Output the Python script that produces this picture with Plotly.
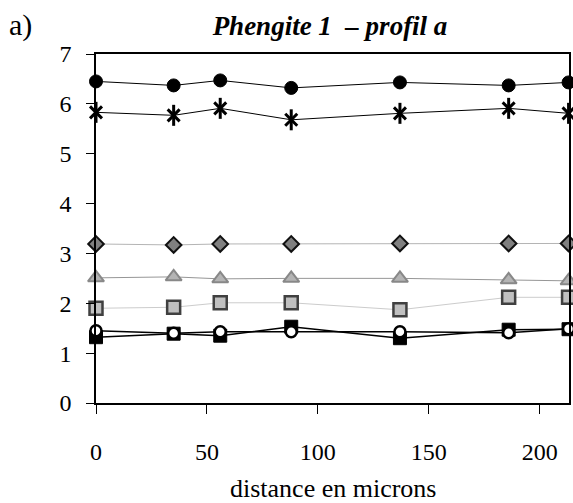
import plotly.graph_objects as go

# distances along the profile (microns)
distance = [0, 35, 56, 88, 137, 186, 213]

# series values
circle_black = [6.45, 6.37, 6.47, 6.32, 6.43, 6.37, 6.43]
asterisk = [5.83, 5.77, 5.91, 5.68, 5.81, 5.91, 5.81]
diamond = [3.19, 3.17, 3.19, 3.19, 3.20, 3.20, 3.20]
triangle = [2.51, 2.53, 2.49, 2.50, 2.50, 2.47, 2.45]
square_grey = [1.90, 1.92, 2.01, 2.01, 1.87, 2.12, 2.12]
square_black = [1.32, 1.39, 1.35, 1.53, 1.30, 1.47, 1.48]
circle_white = [1.45, 1.40, 1.43, 1.43, 1.43, 1.41, 1.49]

x_ticks = [0, 50, 100, 150, 200]
y_ticks = [0, 1, 2, 3, 4, 5, 6, 7]

serif = "Liberation Serif, serif"

fig = go.Figure()


def add_series(y, line_color, symbol, size, fill, outline, outline_w, line_w=1):
    fig.add_trace(go.Scatter(
        x=distance, y=y, mode="lines+markers", cliponaxis=False,
        line=dict(color=line_color, width=line_w),
        marker=dict(symbol=symbol, size=size, color=fill,
                    line=dict(color=outline, width=outline_w)),
        showlegend=False,
    ))


add_series(diamond, "#b4b4b4", "diamond", 12, "#808080", "#111111", 2)
add_series(triangle, "#969696", "triangle-up", 14, "#b4b4b4", "#888888", 2)
add_series(square_grey, "#cccccc", "square", 13, "#c0c0c0", "#404040", 2.5)
add_series(circle_black, "#000000", "circle", 13, "#000000", "#000000", 1)

# six-armed star: an x plus a vertical bar
add_series(asterisk, "#000000", "x-thin-open", 12, "#000000", "#000000", 3)
fig.add_trace(go.Scatter(
    x=distance, y=asterisk, mode="markers", cliponaxis=False,
    marker=dict(symbol="line-ns-open", size=15, color="#000000",
                line=dict(color="#000000", width=3)),
    showlegend=False,
))

add_series(square_black, "#000000", "square", 13, "#000000", "#000000", 1, 1.5)
add_series(circle_white, "#000000", "circle", 11, "#ffffff", "#000000", 2.5, 1.5)

plot_h = 349.5

fig.add_annotation(text="a)", xref="paper", yref="paper",
                   x=-89 / 473, y=1 + (54 - 25) / plot_h,
                   xanchor="left", yanchor="middle", showarrow=False,
                   font=dict(family=serif, size=30, color="#000000"))

fig.add_annotation(text="distance en microns", xref="paper", yref="paper",
                   x=(333 - 96) / 473, y=-(489 - 403.5) / plot_h,
                   xanchor="center", yanchor="middle", showarrow=False,
                   font=dict(family=serif, size=26, color="#000000"))

fig.update_layout(
    width=573, height=503,
    margin=dict(l=96, r=4, t=54, b=99.5),
    plot_bgcolor="white", paper_bgcolor="white",
    font=dict(family=serif, size=24, color="#000000"),
    title=dict(text="<b><i>Phengite 1  – profil a</i></b>",
               x=330 / 573, xanchor="center", y=1 - 26 / 503, yanchor="middle",
               font=dict(family=serif, size=27)),
    xaxis=dict(
        range=[0, 213.2], tickvals=x_ticks, showgrid=False, zeroline=False,
        showline=True, linecolor="#000000", linewidth=1.5, mirror=True,
        ticks="outside", ticklen=9, tickcolor="#000000", ticklabelstandoff=17,
        automargin=False,
    ),
    yaxis=dict(
        range=[0, 7], tickvals=y_ticks, showgrid=False, zeroline=False,
        showline=True, linecolor="#000000", linewidth=1.5, mirror=True,
        ticks="outside", ticklen=8, tickcolor="#000000", ticklabelstandoff=10,
        automargin=False,
    ),
)

# drop the browser's default 8px page margin so the figure sits at 0,0
fig.write_html("out.html", config={"displayModeBar": False},
               post_script="document.body.style.margin='0';")
